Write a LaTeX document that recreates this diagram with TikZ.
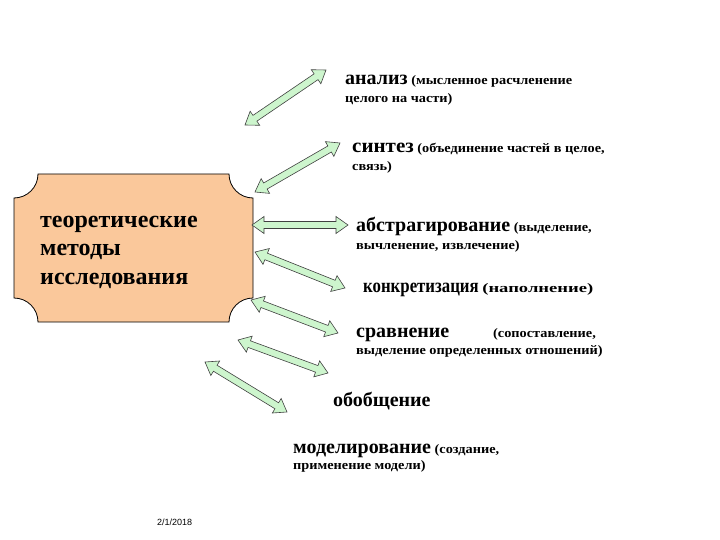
\documentclass[tikz,border=0pt]{standalone}
\usepackage{fontspec}
\usepackage{graphicx}
\setmainfont{Liberation Serif}
\setsansfont{Liberation Sans}
\newfontfamily\notefont[FakeStretch=1.1]{Liberation Serif}
\usetikzlibrary{calc}

\definecolor{plaquefill}{RGB}{250,200,155}
\definecolor{arrowgreen}{RGB}{205,245,205}

% method name, optionally squeezed
\newcommand\mterm[2][1]{\scalebox{#1}[1]{\fontsize{20}{22}\selectfont\rmfamily\bfseries #2}}

\tikzset{
  % two-headed block arrow between two points
  blockarrow/.style={fill=arrowgreen, draw=black!75, line width=0.6pt, line join=miter,
    to path={let \p1=($(\tikztostart)!12pt!(\tikztotarget)$),
                 \p2=($(\tikztotarget)!12pt!(\tikztostart)$) in
      (\tikztostart)
      -- ($(\p1)!8.5pt!90:(\tikztotarget)$) -- ($(\p1)!3.5pt!90:(\tikztotarget)$)
      -- ($(\p2)!3.5pt!-90:(\tikztostart)$) -- ($(\p2)!8.5pt!-90:(\tikztostart)$)
      -- (\tikztotarget)
      -- ($(\p2)!8.5pt!90:(\tikztostart)$) -- ($(\p2)!3.5pt!90:(\tikztostart)$)
      -- ($(\p1)!3.5pt!-90:(\tikztotarget)$) -- ($(\p1)!8.5pt!-90:(\tikztotarget)$)
      -- cycle}},
  item/.style={anchor=base west, inner sep=0pt, font=\notefont\bfseries\fontsize{13}{15}\selectfont},
  boxtext/.style={anchor=base west, inner sep=0pt, align=left,
    font=\rmfamily\bfseries\fontsize{24}{28.5}\selectfont}
}

\begin{document}
\begin{tikzpicture}[x=1pt, y=-1pt]
  \useasboundingbox (0,0) rectangle (720,540);

  % the box with hollow corners
  \filldraw[fill=plaquefill, draw=black, line width=0.8pt]
    (38,174) -- (229,174) arc[start angle=180, end angle=90, radius=24]
    -- (253,298) arc[start angle=270, end angle=180, radius=24]
    -- (38,322) arc[start angle=0, end angle=-90, radius=24]
    -- (14,198) arc[start angle=90, end angle=0, radius=24] -- cycle;
  \node[boxtext] (theory) at (40,284) {теоретические\\методы\\исследования};

  % arrow ends
  \coordinate (s1) at (245,125); \coordinate (e1) at (326,70);
  \coordinate (s2) at (255,192); \coordinate (e2) at (340,143);
  \coordinate (s3) at (252,225); \coordinate (e3) at (348,225);
  \coordinate (s4) at (255,252); \coordinate (e4) at (345,288);
  \coordinate (s5) at (251,300); \coordinate (e5) at (338,333);
  \coordinate (s6) at (238,340); \coordinate (e6) at (328,373);
  \coordinate (s7) at (205,362); \coordinate (e7) at (287,412);
  \foreach \i in {1,...,7}
    \draw[blockarrow] (s\i) to (e\i);

  % methods
  \node[item] (analiz)  at (345,85)  {\mterm{анализ} (мысленное расчленение};
  \node[item] (analiz2) at (345,103) {целого на части)};
  \node[item] (sintez)  at (352,153) {\mterm[1.05]{синтез} (объединение частей в целое,};
  \node[item] (sintez2) at (352,171) {связь)};
  \node[item] (abstr)   at (356,232) {\mterm{абстрагирование} (выделение,};
  \node[item] (abstr2)  at (356,249) {вычленение, извлечение)};
  \node[item] (konkr)   at (363,292) {\mterm[0.84]{конкретизация} \scalebox{1.3}[1]{(наполнение)}};
  \node[item] (sravn)   at (356,337) {\makebox[137pt][l]{\mterm{сравнение}}(сопоставление,};
  \node[item] (sravn2)  at (356,354) {выделение определенных отношений)};
  \node[item] (obob)    at (333,406) {\mterm{обобщение}};
  \node[item] (model)   at (293,453) {\mterm{моделирование} (создание,};
  \node[item] (model2)  at (293,469) {применение модели)};

  \node[anchor=base west, inner sep=0pt, font=\sffamily\fontsize{9}{10}\selectfont] (date) at (157,525) {2/1/2018};
\end{tikzpicture}
\end{document}
